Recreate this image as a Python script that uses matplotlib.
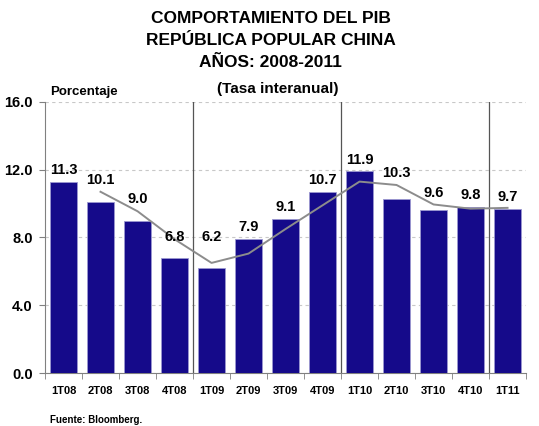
import numpy as np
import matplotlib
matplotlib.use("Agg")
import matplotlib.pyplot as plt

plt.rcParams['font.family'] = ['Liberation Sans', 'DejaVu Sans']
plt.rcParams['font.weight'] = 'bold'

#### Datos ####
trimestres = ['1T08', '2T08', '3T08', '4T08', '1T09', '2T09', '3T09',
              '4T09', '1T10', '2T10', '3T10', '4T10', '1T11']
pib = [11.3, 10.1, 9.0, 6.8, 6.2, 7.9, 9.1, 10.7, 11.9, 10.3, 9.6, 9.8, 9.7]
# linea gris (promedio)
promedio = [np.nan, 10.7, 9.55, 7.9, 6.5, 7.05, 8.5, 9.9, 11.3, 11.1, 9.95, 9.7, 9.75]
yticks = [0.0, 4.0, 8.0, 12.0, 16.0]

# desplazamiento vertical de las etiquetas (para esquivar la linea)
despl = [0.7, 1.3, 1.3, 1.2, 1.8, 0.7, 0.7, 0.7, 0.7, 1.5, 1.05, 0.7, 0.7]

#### Figura ####
fig = plt.figure(figsize=(5.39, 4.26), dpi=100)
ax = fig.add_axes([0.0835, 0.1244, 0.8925, 0.6362])

x = np.arange(len(trimestres))
ax.bar(x, pib, width=0.73, color='#150A8A', edgecolor='#9C98D0', linewidth=0.6, zorder=3)
ax.plot(x, promedio, color='#8C8C8C', linewidth=1.4, zorder=4)

for xi, v, d in zip(x, pib, despl):
    ax.text(xi, v + d, f'{v:.1f}', ha='center', va='center', fontsize=10.5,
            fontweight='bold', color='black', zorder=5)

# separadores de años
for b in [3.5, 7.5, 11.5]:
    ax.axvline(b, color='#555555', linewidth=0.9, zorder=2)

ax.set_xlim(-0.5, len(trimestres) - 0.5)
ax.set_ylim(0, 16)
ax.set_yticks(yticks)
ax.set_yticklabels([f'{t:.1f}' for t in yticks], fontsize=10.5, fontweight='bold')
ax.yaxis.grid(True, linestyle=(0, (3, 3)), color='#C8C8C8', linewidth=0.8, zorder=0)

ax.set_xticks(x)
ax.set_xticklabels(trimestres, fontsize=8, fontweight='bold')
ax.tick_params(axis='x', length=0, pad=9)
ax.set_xticks(np.arange(-0.5, len(trimestres) - 0.4, 1), minor=True)
ax.tick_params(axis='x', which='minor', length=4, color='#808080')
ax.tick_params(axis='y', length=4, color='#808080', pad=5)

for s in ['top', 'right']:
    ax.spines[s].set_visible(False)
for s in ['left', 'bottom']:
    ax.spines[s].set_color('#808080')

#### Textos ####
fig.text(0.502, 0.975, 'COMPORTAMIENTO DEL PIB\nREPÚBLICA POPULAR CHINA\nAÑOS: 2008-2011',
         ha='center', va='top', fontsize=12.5, fontweight='bold', linespacing=1.6)
fig.text(0.516, 0.79, '(Tasa interanual)', ha='center', va='center', fontsize=11, fontweight='bold')
fig.text(0.093, 0.783, 'Porcentaje', ha='left', va='center', fontsize=9.5, fontweight='bold')
fig.text(0.093, 0.003, 'Fuente: Bloomberg.', ha='left', va='bottom', fontsize=7, fontweight='bold')

fig.savefig('out.png', dpi=100)
